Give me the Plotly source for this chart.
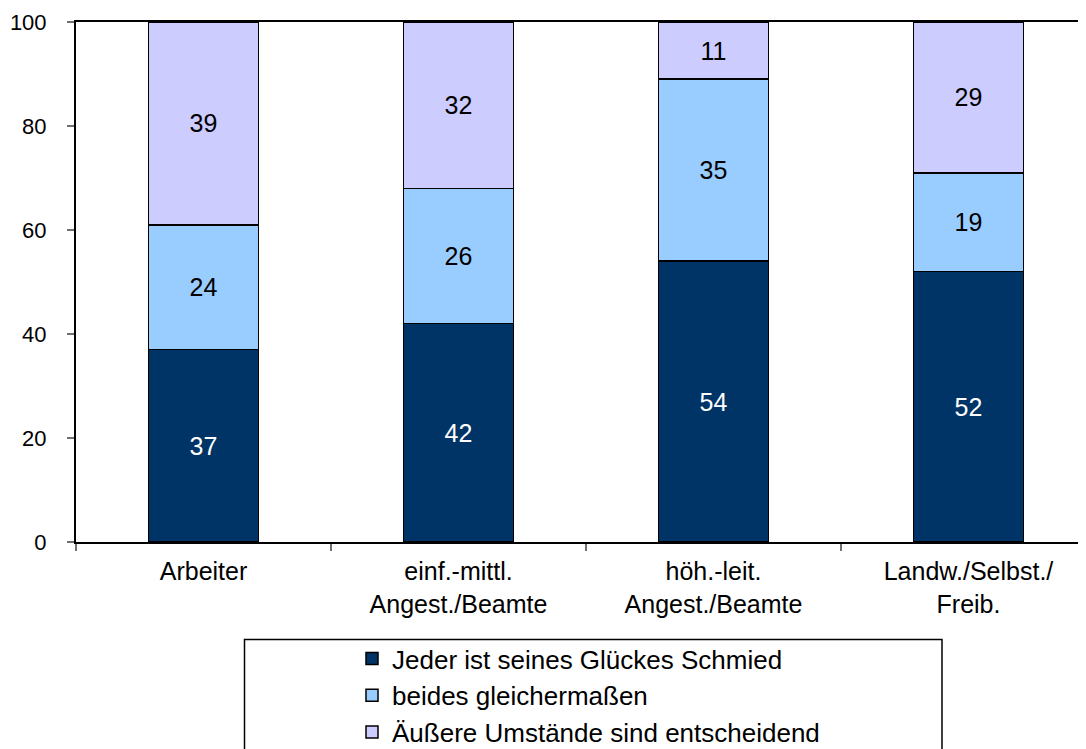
import plotly.graph_objects as go

categories = ["Arbeiter", "einf.-mittl.<br>Angest./Beamte", "höh.-leit.<br>Angest./Beamte", "Landw./Selbst./<br>Freib."]
series_names = ["Jeder ist seines Glückes Schmied", "beides gleichermaßen", "Äußere Umstände sind entscheidend"]
glueck = [37, 42, 54, 52]
beides = [24, 26, 35, 19]
umstaende = [39, 32, 11, 29]
colors = ["#003366", "#99CCFF", "#CCCCFF"]
text_colors = ["white", "black", "black"]
y_ticks = [0, 20, 40, 60, 80, 100]

# page body has an 8px margin; work in screen pixels and subtract it
OFF = 8
W, H = 1086 - OFF, 749 - OFF
L = 76 - OFF
T = 22 - OFF
BOTTOM_PX = 542 - OFF
B = H - BOTTOM_PX
PW = W - L
PH = H - T - B
cat_px = 255.0

def px_x(p):
    return (p - OFF - L) / PW

def px_y(p):
    return (BOTTOM_PX - (p - OFF)) / PH

FONT = "Liberation Sans, Arial, sans-serif"

fig = go.Figure()
x_idx = list(range(len(categories)))
for name, vals, col, tc in zip(series_names, [glueck, beides, umstaende], colors, text_colors):
    fig.add_trace(go.Bar(
        x=x_idx, y=vals, name=name,
        marker=dict(color=col, line=dict(color="black", width=1.5)),
        width=110 / cat_px,
        text=[str(v) for v in vals],
        textposition="inside", insidetextanchor="middle", textangle=0,
        constraintext="none",
        textfont=dict(family=FONT, size=25, color=tc),
        hoverinfo="skip",
    ))

fig.update_layout(
    width=W, height=H,
    margin=dict(l=L, r=0, t=T, b=B, pad=0, autoexpand=False),
    barmode="stack",
    plot_bgcolor="white", paper_bgcolor="white",
    font=dict(family=FONT, size=24, color="black"),
    showlegend=True,
    legend=dict(
        traceorder="normal", orientation="v",
        x=px_x(352), y=px_y(635), xanchor="left", yanchor="top",
        xref="paper", yref="paper",
        font=dict(family=FONT, size=26, color="black"),
        bgcolor="rgba(0,0,0,0)", borderwidth=0,
        itemclick=False, itemdoubleclick=False,
        tracegroupgap=0,
    ),
    shapes=[dict(
        type="rect", xref="paper", yref="paper",
        x0=px_x(244.5), x1=px_x(942), y0=px_y(639.5), y1=px_y(800),
        line=dict(color="black", width=1.5), fillcolor="rgba(0,0,0,0)",
        layer="below",
    )],
)

fig.update_xaxes(
    range=[-0.5, -0.5 + PW / cat_px],
    tickmode="array", tickvals=x_idx, ticktext=categories,
    showgrid=False, zeroline=False, automargin=False,
    showline=True, linecolor="black", linewidth=2, mirror=True,
    ticks="", tickfont=dict(family=FONT, size=25),
    ticklabelstandoff=6,
)
# category boundary tick marks via minor ticks
fig.update_xaxes(minor=dict(tickmode="array", tickvals=[-0.5, 0.5, 1.5, 2.5],
                            ticks="outside", ticklen=7, tickcolor="#707070", tickwidth=1.5))

fig.update_yaxes(
    range=[0, 100], tickvals=y_ticks,
    showgrid=False, zeroline=False, automargin=False,
    showline=True, linecolor="black", linewidth=2,
    ticks="outside", ticklen=7, tickcolor="#707070", tickwidth=1.5,
    tickfont=dict(family=FONT, size=22),
    ticklabelstandoff=16,
)

fig.write_html("out.html")
